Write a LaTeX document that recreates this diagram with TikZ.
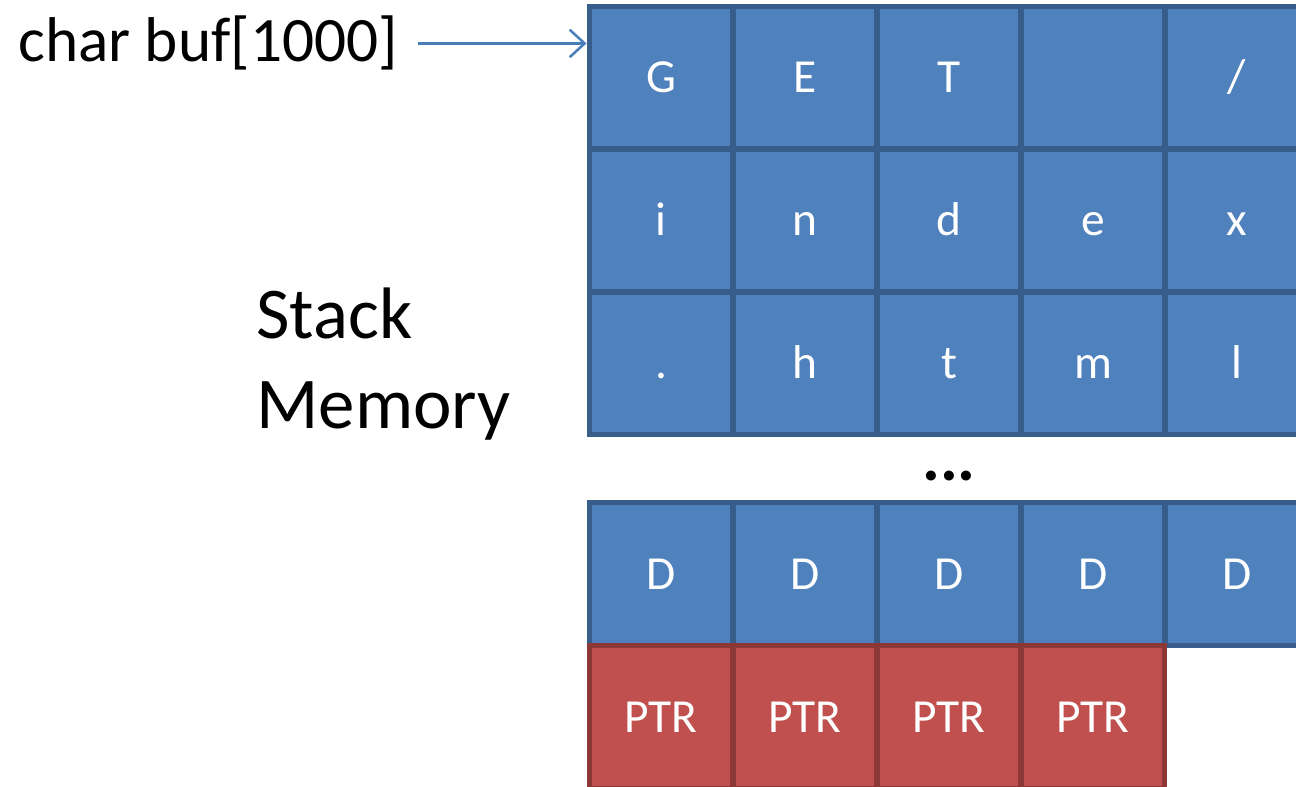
\documentclass[tikz,border=0pt]{standalone}
\usepackage{fontspec}
\setmainfont{Carlito}
\usetikzlibrary{arrows.meta}
\definecolor{cellblue}{HTML}{4F81BD}
\definecolor{cellblueline}{HTML}{385D8A}
\definecolor{cellred}{HTML}{C0504D}
\definecolor{cellredline}{HTML}{8C3836}
\definecolor{arrowblue}{HTML}{4A7EBB}
\begin{document}
\begin{tikzpicture}[x=0.02cm,y=-0.02cm,
  cell/.style={draw=cellblueline,fill=cellblue,line width=0.1cm,minimum width=2.88cm,minimum height=2.86cm,inner sep=0pt,text height=0.62cm,text depth=0cm,text=white,font=\fontsize{27}{32}\selectfont},
  ptrcell/.style={cell,draw=cellredline,fill=cellred},
  pointer/.style={-{Straight Barb[length=0.3cm,width=0.55cm,line width=0.05cm]},line width=0.05cm,arrowblue}]
\useasboundingbox (0,0) rectangle (1296,787);
% buffer rows
\node[cell] (g) at (661,77.5) {G};
\node[cell] (e) at (805,77.5) {E};
\node[cell] (t) at (949,77.5) {T};
\node[cell] (sp) at (1093,77.5) {};
\node[cell] (sl) at (1237,77.5) {/};
\node[cell] (i) at (661,220.5) {i};
\node[cell] (n) at (805,220.5) {n};
\node[cell] (d) at (949,220.5) {d};
\node[cell] (e2) at (1093,220.5) {e};
\node[cell] (x) at (1237,220.5) {x};
\node[cell] (dot) at (661,363.5) {.};
\node[cell] (h) at (805,363.5) {h};
\node[cell] (t2) at (949,363.5) {t};
\node[cell] (m) at (1093,363.5) {m};
\node[cell] (l) at (1237,363.5) {l};
\node[anchor=base,inner sep=0pt,font=\fontsize{38}{40}\selectfont\bfseries] (gap) at (949,480) {...};
% end of buffer
\node[cell] (d1) at (661,574) {D};
\node[cell] (d2) at (805,574) {D};
\node[cell] (d3) at (949,574) {D};
\node[cell] (d4) at (1093,574) {D};
\node[cell] (d5) at (1237,574) {D};
\node[ptrcell] (p1) at (661,717) {PTR};
\node[ptrcell] (p2) at (805,717) {PTR};
\node[ptrcell] (p3) at (949,717) {PTR};
\node[ptrcell] (p4) at (1093,717) {PTR};
% labels
\node[anchor=base west,inner sep=0pt,font=\fontsize{36}{44}\selectfont] (buf) at (18,62) {char buf[1000]};
\draw[pointer,shorten <=0.4cm] (buf.east) -- (buf.east -| g.west);
\node[anchor=west,inner sep=0pt,align=left,font=\fontsize{41.5}{51}\selectfont] (stack) at (256,364) {Stack\\Memory};
\end{tikzpicture}
\end{document}
